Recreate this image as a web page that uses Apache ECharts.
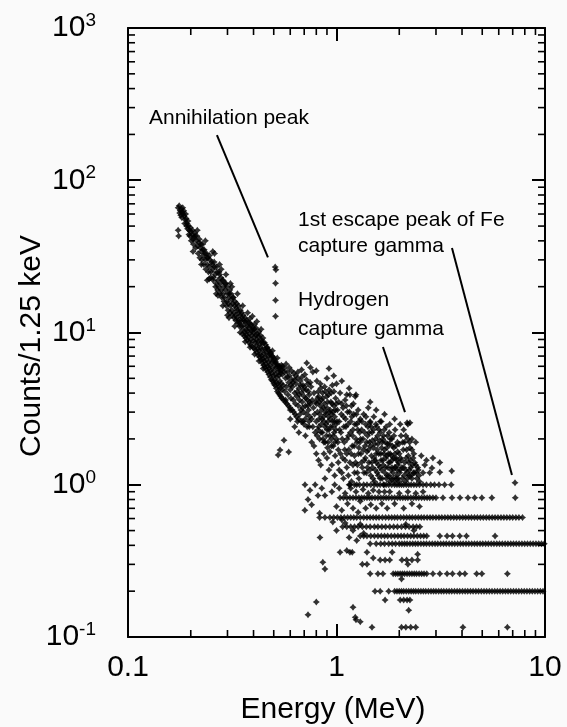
<!DOCTYPE html>
<html>
<head>
<meta charset="utf-8">
<script src="https://cdn.jsdelivr.net/npm/echarts@6/dist/echarts.min.js"></script>
<style>
  html, body { margin: 0; padding: 0; background: #fafafa; }
  #chart { width: 567px; height: 727px; }
</style>
</head>
<body>
<div id="chart"></div>
<script>
// ---- Spectrum: counts per 1.25 keV vs energy (MeV) ----

// Continuum: [energy MeV, counts / 1.25 keV]
const continuum = [
  [0.174,66],[0.176,68],[0.178,63],[0.18,65],[0.177,61],[0.182,62],[0.184,60],[0.181,57],[0.186,58],[0.188,55],
  [0.19,56],[0.187,52],[0.192,52],[0.195,50],[0.193,48],[0.197,47],[0.2,46],[0.198,43],[0.203,44],[0.205,41],
  [0.207,42],[0.174,47],[0.175,43],
  [0.21,43],[0.213,40],[0.216,37],[0.22,41],[0.222,36],[0.225,34],[0.228,38],[0.23,32],[0.232,35],[0.235,30],
  [0.238,33],[0.24,28],[0.242,31],[0.245,27],[0.247,30],[0.25,25],[0.252,29],[0.255,26],[0.257,23],[0.26,27],
  [0.262,24],[0.265,21],[0.267,25],[0.27,22],[0.272,20],[0.275,24],[0.278,21],[0.28,19],[0.283,22],[0.285,18],
  [0.288,20],[0.29,17],[0.293,19],[0.295,21],[0.298,16],[0.3,18],[0.303,15.5],[0.305,17],[0.308,19],[0.31,15],
  [0.313,16.5],[0.315,14],[0.318,15.5],[0.32,17],[0.323,13.5],[0.325,15],[0.328,13],[0.33,14.5],[0.333,12.5],
  [0.335,14],[0.338,12],[0.34,13.5],[0.343,11.5],[0.345,13],[0.348,12],
  [0.24,22],[0.26,33],[0.28,26],[0.3,13],[0.31,21],[0.27,17.5],
  [0.35,11],[0.352,12.5],[0.355,10.5],[0.358,12],[0.36,11.2],[0.363,10],[0.365,11.8],[0.368,10.4],[0.37,9.6],
  [0.373,11],[0.375,10.2],[0.378,9.3],[0.38,10.8],[0.383,9.8],[0.385,11.5],[0.388,9],[0.39,10.3],[0.393,9.6],
  [0.395,10.8],[0.398,8.8],[0.4,10],[0.403,9.3],[0.405,10.5],[0.408,8.6],[0.41,9.6],[0.413,8.2],[0.415,9],
  [0.418,7.8],[0.42,8.7],[0.423,9.4],[0.425,7.6],[0.428,8.3],[0.43,7.2],[0.433,8],[0.435,9],[0.438,7],[0.44,7.7],
  [0.443,6.7],[0.445,8.5],[0.448,7.3],[0.45,6.5],[0.453,7.8],[0.455,6.9],[0.458,6.2],[0.46,7.4],[0.463,6.6],
  [0.465,8],[0.468,6],[0.47,7],[0.473,6.4],[0.475,5.8],[0.478,7.2],[0.48,6.1],[0.483,5.6],[0.485,6.8],[0.488,5.4],
  [0.49,6.4],[0.493,7.6],[0.495,5.9],[0.498,5.2],[0.5,6.5],[0.503,5.6],[0.505,4.9],[0.508,6.2],[0.51,5.3],
  [0.513,4.7],[0.515,5.9],[0.518,5.1],[0.52,6.8],[0.523,4.6],[0.525,5.5],[0.528,4.4],[0.53,5.2],[0.533,6],
  [0.535,4.8],[0.538,4.3],[0.54,5.4],[0.543,4.6],[0.545,5.7],[0.548,4.2],
  [0.55,5.3],[0.555,4.5],[0.56,5.8],[0.565,4.1],[0.57,5],[0.575,4.4],[0.58,5.5],[0.585,3.9],[0.59,4.7],[0.595,5.2],
  [0.6,4.2],[0.605,3.7],[0.61,4.9],[0.615,4.4],[0.62,3.6],[0.625,5.4],[0.63,4],[0.635,3.4],[0.64,4.6],[0.645,3.8],
  [0.65,5],[0.655,3.3],[0.66,4.3],[0.665,3.6],[0.67,4.8],[0.675,3.1],[0.68,4],[0.685,3.5],[0.69,4.5],[0.695,3],
  [0.7,3.8],[0.705,5.3],[0.71,3.3],[0.715,4.2],[0.72,2.9],[0.725,3.6],[0.73,4.6],[0.735,3.1],[0.74,3.9],
  [0.745,2.8],[0.75,3.4],
  [0.72,6.3],[0.6,3.1],[0.65,2.6],[0.57,3.6],[0.536,1.69],[0.56,1.96],[0.59,1.64],[0.525,1.57],
  [0.6,2.7],[0.63,2.4],[0.66,2.2],[0.69,2.6],[0.71,2.1],[0.74,2.4],
  [0.755,4.4],[0.76,2.7],[0.765,3.6],[0.77,2.4],[0.775,3.2],[0.78,4],[0.785,2.9],[0.79,2.2],[0.795,3.5],[0.8,2.6],
  [0.805,4.8],[0.81,3],[0.815,2.3],[0.82,3.8],[0.825,2.7],[0.83,2],[0.835,3.3],[0.84,4.3],[0.845,2.5],[0.85,3.1],
  [0.78,1.8],[0.8,1.6],[0.76,1.9],[0.82,1.45],
  [0.855,2.2],[0.86,3.7],[0.865,2.8],[0.87,1.9],[0.875,3.4],[0.88,2.4],[0.885,4.1],[0.89,2.9],[0.895,2.1],[0.9,3.2],
  [0.905,1.75],[0.91,2.6],[0.915,3.9],[0.92,2.3],[0.925,3],[0.93,1.65],[0.935,2.7],[0.94,3.5],[0.945,2],[0.95,2.9],
  [0.955,4.5],[0.96,2.4],[0.965,1.8],[0.97,3.3],[0.975,2.2],[0.98,2.8],[0.985,1.55],[0.99,3.7],[0.995,2.5],[1.0,2],
  [1.01,3.1],[1.02,1.7],[1.03,2.6],[1.04,4],[1.05,2.2],[1.06,3.4],[1.07,1.5],[1.08,2.8],[1.09,1.9],[1.1,3.6],
  [1.11,2.4],[1.12,1.6],[1.13,3],[1.14,2.1],[1.15,4.3],[1.16,1.4],[1.17,2.6],[1.18,3.3],[1.19,1.8],[1.2,2.3],
  [1.21,2.9],[1.22,1.55],[1.23,3.8],[1.24,2],[1.25,2.5],[1.26,1.35],[1.27,3.1],[1.28,1.75],[1.29,2.2],[1.3,2.7],
  [0.9,5],[1.0,4.6],[1.06,4.8],[0.92,5.8],[1.12,3.9],[1.24,3.9],[0.97,5.2],
  [1.03,1.25],[1.08,1.1],[1.12,1.3],[1.18,1.05],[1.22,1.2],[1.28,1.1],
  [1.31,1.6],[1.32,2.3],[1.33,1.3],[1.34,2],[1.35,2.9],[1.36,1.45],[1.37,1.8],[1.38,2.5],[1.39,1.2],[1.4,1.65],
  [1.41,2.1],[1.42,3.2],[1.43,1.4],[1.44,1.9],[1.45,2.6],[1.46,1.15],[1.47,1.55],[1.48,2.2],[1.49,1.3],[1.5,1.75],
  [1.51,2.8],[1.52,1.05],[1.53,1.45],[1.54,2],[1.55,1.6],[1.56,2.4],[1.57,1.2],[1.58,1.85],[1.59,1.35],[1.6,2.3],
  [1.62,1.1],[1.63,1.6],[1.64,2.6],[1.65,1.25],[1.66,1.9],[1.67,1.45],[1.68,2.1],[1.69,1],[1.7,1.7],[1.72,1.3],
  [1.73,2.4],[1.74,1.55],[1.75,1.15],[1.76,1.85],[1.78,1.4],[1.79,2.2],[1.8,1.05],[1.81,1.6],[1.83,1.25],[1.84,2],
  [1.85,1.45],[1.87,1.1],[1.88,1.75],[1.9,1.3],[1.91,2.3],[1.93,1.5],[1.94,1.15],[1.96,1.9],[1.97,1.35],[1.99,1.05],
  [2.0,1.6],[2.02,1.25],[2.04,2.1],[2.05,1.45],[2.07,1.1],[2.09,1.7],[2.1,1.3],[2.12,1.9],[2.14,1.05],[2.16,1.5],
  [2.18,1.2],[2.2,2.5],[2.22,1.4],[2.23,1.15],[2.25,1.75],[2.27,1.3],[2.3,1.1],[2.33,1.5],[2.36,1.2],[2.4,1.35],
  [2.43,1.1],[2.47,1.25],[2.5,1.05],
  [1.45,3.5],[1.62,2.6],[1.8,2.5],[2.02,2.5],[2.18,2.55],[2.25,2.55],[1.55,3.1],[1.7,2.9],[1.9,2.7],[2.1,2.3],
  [2.3,2.0],[2.4,1.9],[1.16,3.9],[1.45,2.55],
  [2.55,1.55],[2.65,1.35],[2.8,1.2],[2.9,1.5],[3.13,1.4],[3.13,1.21],[3.57,1.23],[2.7,1.45],[2.87,1.29],[2.6,1.2],
  [0.706,1.0],[0.746,0.92],[0.79,1.0],[0.815,0.85],[0.85,0.95],[0.73,0.8],[0.705,0.68],[0.76,0.74],[0.83,0.65],
  [0.88,0.85],[0.833,0.45],[0.86,0.31],[0.88,0.28],[0.8,0.17],[0.73,0.14],[1.04,0.36],[1.12,0.37],[1.2,0.157],
  [1.24,0.13],[1.3,0.126],[0.96,0.57],[1.06,0.59],[1.19,0.36],[1.23,0.135],[1.4,0.3],[1.16,0.36],
  [0.95,0.9],[1.0,0.72],[1.03,0.95],[1.06,0.68],[1.1,0.88],[1.13,0.75],[1.17,0.95],[1.2,0.7],[1.24,0.9],
  [1.27,0.66],[1.3,0.78],[1.34,0.93],[1.38,0.7],[1.42,0.88],[1.46,0.74],[1.5,0.92],[1.55,0.7],[1.6,0.9],
  [1.65,0.75],[1.7,0.9],[1.1,0.56],[1.2,0.5],[1.3,0.55],[1.15,0.45],[1.25,0.43],[1.35,0.48],[1.0,0.5],
  [1.4,0.36],[1.5,0.33],[1.33,0.3],
  [1.8,0.9],[1.9,0.75],[2.0,0.88],[2.1,0.7],[2.2,0.9],[2.3,0.75],[2.4,0.88],[1.75,0.7],[2.5,0.72],[2.6,0.9],
  [2.15,0.55],[2.35,0.5],[2.45,0.35],[1.85,0.36],[2.2,0.3],[2.05,0.24],[2.22,0.15]
];

// Further continuum channels in the crowded part of the spectrum
const continuumDense = [
  [0.179,59],[0.183,66],[0.185,63],[0.189,60],[0.191,50],[0.194,54],[0.196,44],[0.199,49],[0.201,40],[0.204,47],
  [0.206,38],[0.209,45],[0.211,36],[0.214,43],[0.217,33],[0.219,39],[0.221,31],[0.224,38],[0.226,30],[0.229,35],
  [0.231,28],[0.234,33],[0.236,26],[0.239,31],[0.243,25],[0.246,32],[0.249,23],[0.253,28],[0.256,22],[0.259,29],
  [0.263,20],[0.266,27],[0.269,19],[0.273,25],[0.276,18],[0.279,23],[0.282,17],[0.286,22],[0.289,16],[0.292,21],
  [0.296,15],[0.299,20],[0.302,14],[0.306,18],[0.309,13.5],[0.312,18],[0.316,13],[0.319,17],[0.322,12.5],[0.326,16],
  [0.329,12],[0.332,15.5],[0.336,11.5],[0.339,15],[0.342,11],[0.346,14],
  [0.351,13.5],[0.354,9.8],[0.357,13],[0.361,9.5],[0.364,12.5],[0.367,9.2],[0.371,12],[0.374,8.9],[0.377,11.6],
  [0.381,8.6],[0.384,12.3],[0.387,8.3],[0.391,11.2],[0.394,8.1],[0.397,10.4],[0.401,7.9],[0.404,11.3],[0.407,7.7],
  [0.411,10.7],[0.414,7.4],[0.417,9.8],[0.421,7.1],[0.424,10.1],[0.427,6.9],[0.431,9.6],[0.434,6.6],[0.437,8.7],
  [0.441,6.3],[0.444,9.2],[0.447,6.1],[0.451,8.6],[0.454,5.9],[0.457,8.3],[0.461,5.7],[0.464,7.9],[0.467,5.5],
  [0.471,7.7],[0.474,5.3],[0.477,7.5],[0.481,5.1],[0.484,7.3],[0.487,4.9],[0.491,7.0],[0.494,4.8],[0.497,6.9],
  [0.501,4.6],[0.504,6.7],[0.507,4.5],[0.511,6.4],[0.514,4.3],[0.517,6.2],[0.521,4.1],[0.524,6.0],[0.527,4.0],
  [0.531,5.8],[0.534,3.9],[0.537,5.6],[0.541,3.8],[0.544,6.1],[0.547,3.7],
  [0.552,6.0],[0.558,3.6],[0.563,5.5],[0.568,3.5],[0.573,6.2],[0.578,3.4],[0.583,5.1],[0.588,3.3],[0.593,5.9],
  [0.598,3.2],[0.603,4.5],[0.608,5.6],[0.613,3.1],[0.618,4.7],[0.623,3.0],[0.628,4.9],[0.633,2.9],[0.638,5.2],
  [0.643,2.8],[0.648,4.1],[0.653,5.5],[0.658,2.7],[0.663,3.9],[0.668,2.9],[0.673,4.5],[0.678,2.6],[0.683,5.1],
  [0.688,3.2],[0.693,4.2],[0.698,2.5],[0.703,4.4],[0.708,2.7],[0.713,3.7],[0.718,4.9],[0.723,2.4],[0.728,3.3],
  [0.733,4.1],[0.738,2.6],[0.743,3.5],[0.748,4.7],[0.77,5.5],[0.8,5.6],[0.75,5.9],[0.68,5.7],
  [0.802,3.4],[0.807,2.1],[0.812,3.7],[0.817,4.1],[0.822,2.4],[0.827,3.5],[0.832,2.9],[0.837,4.6],[0.842,2.2],
  [0.847,3.6],[0.852,2.7],[0.857,4.0],[0.862,2.0],[0.867,3.2],[0.872,2.6],[0.877,4.4],[0.882,1.9],[0.887,3.0],
  [0.892,2.5],[0.897,3.8],[0.902,2.3],[0.907,3.5],[0.912,1.9],[0.917,2.8],[0.922,4.2],[0.927,2.1],[0.932,3.1],
  [0.937,2.4],[0.942,4.0],[0.947,1.8],[0.952,3.4],[0.957,2.6],[0.962,3.0],[0.967,2.1],[0.972,4.1],[0.977,2.6],
  [0.982,1.9],[0.987,3.1],[0.992,2.3],[0.997,3.4],
  [1.005,2.6],[1.015,1.9],[1.025,3.5],[1.035,2.3],[1.045,1.6],[1.055,2.9],[1.065,2.0],[1.075,3.2],[1.085,2.4],
  [1.095,1.7],[1.105,2.7],[1.115,3.3],[1.125,2.0],[1.135,2.5],[1.145,1.7],[1.155,3.0],[1.165,2.2],[1.175,1.6],
  [1.185,2.8],[1.195,2.1],[1.205,3.4],[1.215,1.8],[1.225,2.5],[1.235,1.4],[1.245,2.9],[1.255,1.9],[1.265,2.3],
  [1.275,1.6],[1.285,2.6],[1.295,1.9],
  [1.02,1.4],[1.06,1.2],[1.1,1.45],[1.14,1.15],[1.2,1.35],[1.26,1.2],[1.15,1.0],[1.25,1.0],[0.95,1.35],[0.9,1.5],
  [0.98,1.15],[0.92,1.25],[0.87,1.6],[0.84,1.35],[0.88,1.1],
  [1.305,2.0],[1.315,1.4],[1.325,2.6],[1.345,1.7],[1.355,1.2],[1.365,2.2],[1.375,1.5],[1.385,2.8],[1.395,1.9],
  [1.405,1.3],[1.415,2.4],[1.425,1.7],[1.435,2.2],[1.445,1.25],[1.455,1.8],[1.465,2.4],[1.475,1.4],[1.485,1.95],
  [1.495,1.1],[1.505,2.3],[1.515,1.5],[1.525,1.85],[1.535,1.25],[1.545,2.5],[1.555,1.4],[1.565,1.7],[1.575,2.1],
  [1.585,1.15],[1.595,1.6],[1.61,1.95],[1.615,1.3],[1.625,2.2],[1.635,1.45],[1.645,1.75],[1.655,1.1],[1.665,2.0],
  [1.675,1.35],[1.685,1.6],[1.695,2.3],[1.705,1.2],[1.715,1.9],[1.725,1.5],[1.735,1.1],[1.745,1.75],[1.755,2.1],
  [1.765,1.3],[1.775,1.6],[1.785,1.15],[1.795,1.85],[1.805,1.4],[1.815,2.0],[1.825,1.1],[1.835,1.55],[1.845,1.3],
  [1.855,1.8],[1.865,1.2],[1.875,1.5],[1.885,2.1],[1.895,1.05],[1.905,1.6],[1.915,1.3],[1.925,1.8],[1.935,1.1],
  [1.945,1.45],[1.955,1.25],[1.965,1.65],[1.975,1.1],[1.985,1.4],[1.995,1.85],[2.01,1.2],[2.03,1.5],[2.06,1.3],
  [2.08,1.9],[2.11,1.15],[2.13,1.4],[2.15,1.25],[2.17,1.7],[2.19,1.1],[2.21,1.55],[2.24,1.25],[2.26,1.45],
  [2.28,1.15],[2.31,1.35],[2.34,1.2],[2.37,1.4],[2.41,1.2],[2.45,1.3],[2.49,1.15],[2.2,2.0],[2.24,1.9],[2.15,2.1],
  [2.3,1.7],[2.35,1.6],
  [0.205,34],[0.215,47],[0.225,28],[0.235,40],[0.245,22.5],[0.255,34],[0.265,18],[0.275,28],[0.285,15],[0.295,24],
  [0.305,12.5],[0.315,20],[0.325,11],[0.335,18],[0.345,10],[0.355,15],[0.365,8.7],[0.375,13.5],[0.385,8],
  [0.395,12.8],[0.405,7.2],[0.415,11.8],[0.425,6.5],[0.435,10.5],[0.445,5.8]
];

// Annihilation (0.511 MeV) and Fe capture 1st-escape peaks
const peakPoints = [
  [0.508,26.9],[0.512,25.8],[0.51,21.1],[0.51,16.3],[0.51,12.8],
  [7.18,1.03],[7.2,0.82]
];

// Low-count channels fall on discrete levels; energies of the channels at each level
const rowLevels = [1.0, 0.82, 0.61, 0.53, 0.46, 0.41, 0.32, 0.26, 0.2, 0.175, 0.116];
const row100 = [0.98,1.16,1.22,1.29,1.35,1.4,1.46,1.52,1.57,1.62,1.68,1.73,1.78,1.84,1.9,1.95,2.0,2.05,2.1,2.16,
  2.22,2.28,2.35,2.42,2.5,2.6,2.7,2.83,2.95,3.1,3.3,3.55];
const row082 = [1.04,1.08,1.12,1.16,1.2,1.24,1.28,1.32,1.36,1.4,1.44,1.48,1.53,1.58,1.63,1.68,1.73,1.78,1.84,1.9,
  1.96,2.02,2.08,2.14,2.2,2.27,2.34,2.41,2.48,2.56,2.64,2.72,2.8,2.9,3.0,3.24,3.58,3.91,4.27,4.6,4.98,5.56];
const row061 = [0.83,0.88,0.93,0.97,1.01,1.05,1.09,1.13,1.17,1.21,1.25,1.3,1.35,1.4,1.45,1.5,1.55,1.6,1.66,1.72,
  1.78,1.84,1.9,1.96,2.03,2.1,2.17,2.24,2.31,2.39,2.47,2.55,2.63,2.72,2.81,2.9,3.0,3.1,3.2,3.31,3.42,3.53,3.65,
  3.77,3.9,4.03,4.16,4.3,4.44,4.59,4.74,4.9,5.06,5.23,5.4,5.58,5.76,5.95,6.15,6.35,6.56,6.78,7.0,7.25,7.5,7.8];
const row053 = [1.07,1.12,1.17,1.22,1.27,1.33,1.39,1.45,1.52,1.58,1.65,1.72,1.8,1.88,1.96,2.05,2.14,2.23,2.33,
  2.42,2.51];
const row046 = [1.3,1.35,1.4,1.46,1.52,1.58,1.64,1.7,1.76,1.83,1.9,1.97,2.04,2.11,2.19,2.27,2.35,2.44,2.53,2.62,
  2.71,3.13,3.39,3.6,3.9,4.2,5.76];
const row041 = [1.45,1.55,1.63,1.7,1.78,1.85,1.92,2.0,2.06,2.12,2.18,2.25,2.32,2.39,2.46,2.54,2.62,2.7,2.79,2.88,
  2.97,3.06,3.16,3.26,3.36,3.47,3.58,3.69,3.81,3.93,4.05,4.18,4.31,4.45,4.59,4.73,4.88,5.03,5.19,5.35,5.52,5.69,
  5.87,6.05,6.24,6.44,6.64,6.85,7.06,7.28,7.51,7.75,7.99,8.24,8.5,8.77,9.05,9.33,9.62,9.92];
const row032 = [1.62,1.71,1.8,2.06,2.17,2.3,2.45];
const row026 = [1.45,1.58,1.67,1.87,1.92,1.97,2.02,2.07,2.12,2.18,2.24,2.3,2.36,2.42,2.49,2.56,2.63,2.71,2.9,
  3.13,3.39,3.6,3.9,4.13,4.7,4.98,6.6];
const row020 = [1.53,1.62,1.78,1.9,1.95,2.0,2.05,2.1,2.16,2.22,2.28,2.34,2.4,2.47,2.54,2.61,2.68,2.76,2.84,2.92,
  3.0,3.09,3.18,3.27,3.37,3.47,3.57,3.68,3.79,3.9,4.02,4.14,4.26,4.39,4.52,4.66,4.8,4.95,5.1,5.25,5.41,5.57,5.74,
  5.91,6.09,6.27,6.46,6.65,6.85,7.06,7.27,7.49,7.72,7.95,8.19,8.44,8.69,8.95,9.22,9.5,9.78];
const row0175 = [1.71,2.02,2.1,2.18,2.25];
const row0116 = [1.48,2.05,2.15,2.27,2.4,4.04,6.6];
const rowEnergies = [row100,row082,row061,row053,row046,row041,row032,row026,row020,row0175,row0116];

// Axis ticks
const xMajorTicks = [0.1, 1, 10];
const xTickLabels = ['0.1', '1', '10'];
const xMinorTicks = [0.2,0.3,0.4,0.5,0.6,0.7,0.8,0.9,2,3,4,5,6,7,8,9];
const yMinorTicks = [0.2,0.3,0.4,0.5,0.6,0.7,0.8,0.9,2,3,4,5,6,7,8,9,20,30,40,50,60,70,80,90,200,300,400,500,600,700,800,900];

// Annotation leader lines, in data units
const leaderAnnihilation = [[0.267,198],[0.469,31.2]];
const leaderHydrogen = [[1.67,8.03],[2.13,3.0]];
const leaderFe = [[3.58,35.9],[6.94,1.16]];

// ---------------------------------------------------------------
const FONT = '"Liberation Sans", Arial, Helvetica, sans-serif';
const INK = '#000';
const MINOR = 7;

const points = continuum.concat(continuumDense, peakPoints);
rowLevels.forEach((lvl, i) => rowEnergies[i].forEach(e => points.push([e, lvl])));

function minorTicks(values, dim) {
  return {
    type: 'custom',
    silent: true,
    clip: false,
    z: 5,
    data: values.map(v => dim === 'x' ? [v, 1] : [1, v]),
    renderItem(params, api) {
      const cs = params.coordSys;
      const st = { stroke: INK, lineWidth: 1.6 };
      if (dim === 'x') {
        const px = api.coord([api.value(0), 1])[0];
        const yb = cs.y + cs.height, yt = cs.y;
        return { type: 'group', children: [
          { type: 'line', shape: { x1: px, y1: yb, x2: px, y2: yb - MINOR }, style: st },
          { type: 'line', shape: { x1: px, y1: yt, x2: px, y2: yt + MINOR }, style: st }
        ]};
      }
      const py = api.coord([1, api.value(1)])[1];
      const xl = cs.x, xr = cs.x + cs.width;
      return { type: 'group', children: [
        { type: 'line', shape: { x1: xl, y1: py, x2: xl + MINOR, y2: py }, style: st },
        { type: 'line', shape: { x1: xr, y1: py, x2: xr - MINOR, y2: py }, style: st }
      ]};
    }
  };
}

function leader(data) {
  return {
    type: 'line', data: data, symbol: 'none', silent: true, z: 4,
    lineStyle: { color: INK, width: 2 }
  };
}

const axisLine = { show: true, lineStyle: { color: INK, width: 2 } };
const majorTick = { show: true, inside: true, length: 13, lineStyle: { color: INK, width: 2 } };

const option = {
  backgroundColor: '#fafafa',
  animation: false,
  grid: { left: 128, right: 22, top: 28, bottom: 90 },
  xAxis: [
    {
      type: 'log', logBase: 10, min: 0.1, max: 10, position: 'bottom',
      axisLine, axisTick: majorTick, splitLine: { show: false },
      axisLabel: {
        margin: 16, color: INK, fontFamily: FONT, fontSize: 30,
        formatter: v => xTickLabels[xMajorTicks.findIndex(t => Math.abs(Math.log10(t) - Math.log10(v)) < 1e-6)] || ''
      }
    },
    {
      type: 'log', logBase: 10, min: 0.1, max: 10, position: 'top',
      axisLine, axisTick: majorTick, axisLabel: { show: false }, splitLine: { show: false }
    }
  ],
  yAxis: [
    {
      type: 'log', logBase: 10, min: 0.1, max: 1000, position: 'left',
      axisLine, axisTick: majorTick, splitLine: { show: false },
      axisLabel: {
        margin: 32, color: INK, fontFamily: FONT,
        formatter: v => '{b|10}{s|' + Math.round(Math.log10(v)) + '}',
        rich: {
          b: { fontFamily: FONT, fontSize: 30, color: INK },
          s: { fontFamily: FONT, fontSize: 19, color: INK, padding: [0, 0, 14, 0] }
        }
      }
    },
    {
      type: 'log', logBase: 10, min: 0.1, max: 1000, position: 'right',
      axisLine, axisTick: majorTick, axisLabel: { show: false }, splitLine: { show: false }
    }
  ],
  series: [
    {
      type: 'scatter',
      data: points,
      symbol: 'path://M3.5,0 L5,2 L7,3.5 L5,5 L3.5,7 L2,5 L0,3.5 L2,2 Z',
      symbolSize: 7,
      itemStyle: { color: INK },
      silent: true,
      z: 3
    },
    leader(leaderAnnihilation),
    leader(leaderHydrogen),
    leader(leaderFe),
    minorTicks(xMinorTicks, 'x'),
    minorTicks(yMinorTicks, 'y')
  ],
  graphic: [
    { type: 'text', x: 149, y: 118, style: { text: 'Annihilation peak', font: '21px ' + FONT, fill: INK, textAlign: 'left', textVerticalAlign: 'middle', align: 'left', verticalAlign: 'middle' } },
    { type: 'text', x: 298, y: 220, style: { text: '1st escape peak of Fe', font: '21px ' + FONT, fill: INK, textAlign: 'left', textVerticalAlign: 'middle', align: 'left', verticalAlign: 'middle' } },
    { type: 'text', x: 298, y: 246, style: { text: 'capture gamma', font: '21px ' + FONT, fill: INK, textAlign: 'left', textVerticalAlign: 'middle', align: 'left', verticalAlign: 'middle' } },
    { type: 'text', x: 298, y: 300, style: { text: 'Hydrogen', font: '21px ' + FONT, fill: INK, textAlign: 'left', textVerticalAlign: 'middle', align: 'left', verticalAlign: 'middle' } },
    { type: 'text', x: 298, y: 329, style: { text: 'capture gamma', font: '21px ' + FONT, fill: INK, textAlign: 'left', textVerticalAlign: 'middle', align: 'left', verticalAlign: 'middle' } },
    { type: 'text', x: 32, y: 346, rotation: Math.PI / 2, style: { text: 'Counts/1.25 keV', font: '30px ' + FONT, fill: INK, textAlign: 'center', textVerticalAlign: 'middle', align: 'center', verticalAlign: 'middle' } },
    { type: 'text', x: 333, y: 710, style: { text: 'Energy (MeV)', font: '30px ' + FONT, fill: INK, textAlign: 'center', textVerticalAlign: 'middle', align: 'center', verticalAlign: 'middle' } }
  ]
};

const chart = echarts.init(document.getElementById('chart'), null, { renderer: 'canvas' });
chart.setOption(option);
</script>
</body>
</html>
